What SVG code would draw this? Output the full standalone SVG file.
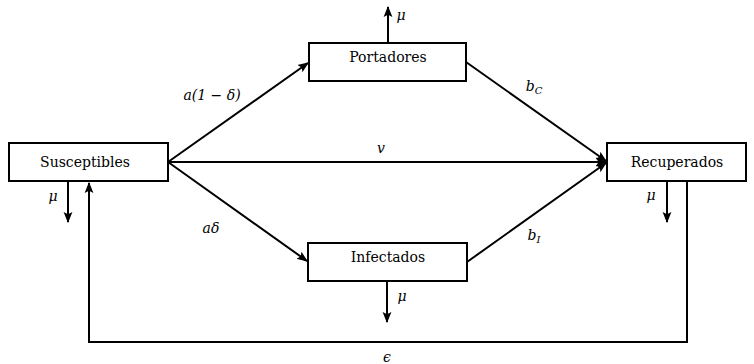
<svg xmlns="http://www.w3.org/2000/svg" width="754" height="364" viewBox="0 0 754 364">
<style>
.box{fill:#fff;stroke:#000;stroke-width:2}
.lbl{font-family:"DejaVu Serif","Liberation Serif",serif;font-size:14px;fill:#000;text-anchor:middle}
.math{font-family:"DejaVu Serif","Liberation Serif",serif;font-size:14px;font-style:italic;fill:#000;text-anchor:middle}
.e{fill:none;stroke:#000;stroke-width:2}
</style>
<defs>
<marker id="ah" viewBox="0 0 10 10" refX="9" refY="5" markerWidth="5.5" markerHeight="5.5" orient="auto" markerUnits="strokeWidth">
<path d="M0,1 L10,5 L0,9 L2,5 Z" fill="#000"/>
</marker>
</defs>
<g id="connectors">
<line class="e" x1="168" y1="162" x2="308" y2="63" marker-end="url(#ah)"/>
<line class="e" x1="168" y1="162" x2="307" y2="261" marker-end="url(#ah)"/>
<line class="e" x1="168" y1="162" x2="606" y2="162" marker-end="url(#ah)"/>
<line class="e" x1="466" y1="62" x2="606" y2="161" marker-end="url(#ah)"/>
<line class="e" x1="467" y1="262" x2="606" y2="163" marker-end="url(#ah)"/>
<line class="e" x1="68" y1="181" x2="68" y2="222" marker-end="url(#ah)"/>
<line class="e" x1="388" y1="43" x2="388" y2="7" marker-end="url(#ah)"/>
<line class="e" x1="387" y1="281" x2="387" y2="322" marker-end="url(#ah)"/>
<line class="e" x1="667" y1="181" x2="667" y2="222" marker-end="url(#ah)"/>
<polyline class="e" points="687,181 687,342 89,342 89,183" marker-end="url(#ah)"/>
<text class="math" x="212" y="100">a(1 − δ)</text>
<text class="math" x="211" y="233">aδ</text>
<text class="math" x="381" y="153">v</text>
<text class="math" x="534" y="91">b<tspan font-size="10" dy="3">C</tspan></text>
<text class="math" x="534" y="240">b<tspan font-size="10" dy="3">I</tspan></text>
<text class="math" x="53" y="201">μ</text>
<text class="math" x="401" y="20">μ</text>
<text class="math" x="402" y="301">μ</text>
<text class="math" x="651" y="200">μ</text>
<text class="math" x="387" y="362">ϵ</text>
</g>
<g id="susceptibles">
<rect class="box" x="9" y="143" width="159" height="38"/>
<text class="lbl" x="85" y="167">Susceptibles</text>
</g>
<g id="portadores">
<rect class="box" x="309" y="43" width="157" height="38"/>
<text class="lbl" x="388" y="62">Portadores</text>
</g>
<g id="infectados">
<rect class="box" x="308" y="243" width="159" height="38"/>
<text class="lbl" x="388" y="262">Infectados</text>
</g>
<g id="recuperados">
<rect class="box" x="607" y="143" width="139" height="38"/>
<text class="lbl" x="677" y="167">Recuperados</text>
</g>
</svg>
